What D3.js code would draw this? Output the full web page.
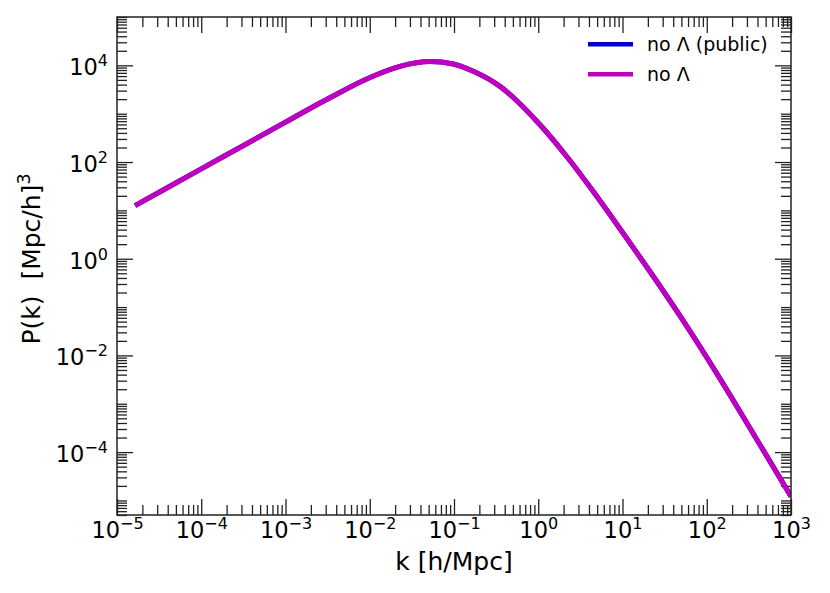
<!DOCTYPE html>
<html>
<head>
<meta charset="utf-8">
<script src="https://cdn.jsdelivr.net/npm/d3@7"></script>
<style>
  html, body { margin: 0; padding: 0; background: #fff; }
  svg { display: block; font-family: "DejaVu Sans", sans-serif; }
  text { white-space: pre; }
</style>
</head>
<body>
<svg id="chart" width="830" height="593"></svg>
<script>
// ---- data ----
const kValues = [1.637e-5, 1e-4, 1e-3, 2.57e-3, 3.69e-3, 9.20e-3, 0.02286, 0.0519, 0.0982, 0.1694,
                 0.3516, 1.05, 2.178, 4.50, 9.33, 19.36, 50.4, 143.5, 357, 1000];
const pNoLambdaPublic = [12.53, 72.1, 668, 1663, 2328, 5224, 9528, 11940, 10690, 7516,
                         3673, 590, 130, 24.5, 4.17, 0.682, 0.0582, 3.31e-3, 2.40e-4, 1.21e-5];
const pNoLambda = [12.53, 72.1, 668, 1663, 2328, 5224, 9528, 11940, 10690, 7516,
                   3673, 590, 130, 24.5, 4.17, 0.682, 0.0582, 3.31e-3, 2.40e-4, 1.21e-5];
const seriesNames = ["no \u039B (public)", "no \u039B"];
const seriesColors = ["#0000CD", "#BF00BF"];
const xMajorExp = [-5, -4, -3, -2, -1, 0, 1, 2, 3];
const yMajorExp = [-4, -2, 0, 2, 4];
const xDomain = [1e-5, 1e3];
const yDomain = [5e-6, 1e5];

// ---- layout ----
const L = 117, R = 791, T = 17, B = 515;
const svg = d3.select("#chart");
const x = d3.scaleLog().domain(xDomain).range([L, R]);
const y = d3.scaleLog().domain(yDomain).range([B, T]);

const minorVals = (lo, hi) => {
  const out = [];
  for (let e = Math.floor(Math.log10(lo)); e <= Math.ceil(Math.log10(hi)); e++) {
    for (let m = 1; m <= 9; m++) {
      const v = m * Math.pow(10, e);
      if (v >= lo * 0.9999 && v <= hi * 1.0001) out.push(v);
    }
  }
  return out;
};
const xMajor = xMajorExp.map(e => Math.pow(10, e));
const yMajor = yMajorExp.map(e => Math.pow(10, e));
const xMinor = minorVals(xDomain[0], xDomain[1]).filter(v => !xMajor.some(m => Math.abs(m - v) / m < 1e-6));
const yMinor = minorVals(yDomain[0], yDomain[1]).filter(v => !yMajor.some(m => Math.abs(m - v) / m < 1e-6));

const MAJ = 16, MIN = 10;
const tickColor = "#222";

function styleAxis(g) {
  g.select(".domain").remove();
  g.selectAll(".tick line").attr("stroke", tickColor).attr("stroke-width", 1.3);
}

// minor ticks
svg.append("g").attr("transform", `translate(0,${B})`)
  .call(d3.axisBottom(x).tickValues(xMinor).tickSize(-MIN).tickSizeOuter(0).tickFormat(""))
  .call(styleAxis);
svg.append("g").attr("transform", `translate(0,${T})`)
  .call(d3.axisTop(x).tickValues(xMinor).tickSize(-MIN).tickSizeOuter(0).tickFormat(""))
  .call(styleAxis);
svg.append("g").attr("transform", `translate(${L},0)`)
  .call(d3.axisLeft(y).tickValues(yMinor).tickSize(-MIN).tickSizeOuter(0).tickFormat(""))
  .call(styleAxis);
svg.append("g").attr("transform", `translate(${R},0)`)
  .call(d3.axisRight(y).tickValues(yMinor).tickSize(-MIN).tickSizeOuter(0).tickFormat(""))
  .call(styleAxis);

// major ticks
const supLabel = (sel) => {
  sel.selectAll(".tick text").each(function(d) {
    const t = d3.select(this);
    const e = Math.round(Math.log10(d));
    t.text(null);
    t.append("tspan").text("10");
    t.append("tspan").attr("dy", -9).attr("font-size", 16)
      .text(e < 0 ? "\u2212" + Math.abs(e) : String(e));
  });
};

const xAxisB = svg.append("g").attr("transform", `translate(0,${B})`)
  .call(d3.axisBottom(x).tickValues(xMajor).tickSize(-MAJ).tickSizeOuter(0));
xAxisB.call(styleAxis);
xAxisB.selectAll(".tick text").attr("y", 23).attr("dy", null).attr("x", 0)
  .attr("font-size", 22.5).attr("font-family", "DejaVu Sans").attr("fill", "#000")
  .attr("text-anchor", "middle");
supLabel(xAxisB);

svg.append("g").attr("transform", `translate(0,${T})`)
  .call(d3.axisTop(x).tickValues(xMajor).tickSize(-MAJ).tickSizeOuter(0).tickFormat(""))
  .call(styleAxis);

const yAxisL = svg.append("g").attr("transform", `translate(${L},0)`)
  .call(d3.axisLeft(y).tickValues(yMajor).tickSize(-MAJ).tickSizeOuter(0));
yAxisL.call(styleAxis);
yAxisL.selectAll(".tick text").attr("x", -9).attr("y", 9.5).attr("dy", null)
  .attr("font-size", 22.5).attr("font-family", "DejaVu Sans").attr("fill", "#000")
  .attr("text-anchor", "end");
supLabel(yAxisL);

svg.append("g").attr("transform", `translate(${R},0)`)
  .call(d3.axisRight(y).tickValues(yMajor).tickSize(-MAJ).tickSizeOuter(0).tickFormat(""))
  .call(styleAxis);

// clip
svg.append("clipPath").attr("id", "clip").append("rect")
  .attr("x", L).attr("y", T).attr("width", R - L).attr("height", B - T);

// lines
const line = d3.line().x(d => x(d[0])).y(d => y(d[1])).curve(d3.curveMonotoneX);
const series = [pNoLambdaPublic, pNoLambda];
series.forEach((vals, i) => {
  svg.append("path")
    .datum(kValues.map((k, j) => [k, vals[j]]))
    .attr("clip-path", "url(#clip)")
    .attr("fill", "none")
    .attr("stroke", seriesColors[i])
    .attr("stroke-width", 5)
    .attr("stroke-linejoin", "round")
    .attr("d", line);
});

// frame
svg.append("rect").attr("x", L).attr("y", T).attr("width", R - L).attr("height", B - T)
  .attr("fill", "none").attr("stroke", tickColor).attr("stroke-width", 1.5);

// axis labels
svg.append("text").attr("x", (L + R) / 2).attr("y", 570)
  .attr("text-anchor", "middle").attr("font-size", 25).attr("fill", "#000")
  .text("k [h/Mpc]");

const yl = svg.append("text").attr("transform", `translate(40,259) rotate(-90)`)
  .attr("text-anchor", "middle").attr("font-size", 25).attr("fill", "#000");
yl.append("tspan").text("P(k)  [Mpc/h]");
yl.append("tspan").attr("dy", -10).attr("font-size", 17.5).text("3");

// legend
const legY = [44.3, 74.3];
seriesNames.forEach((name, i) => {
  svg.append("line").attr("x1", 588).attr("x2", 633).attr("y1", legY[i]).attr("y2", legY[i])
    .attr("stroke", seriesColors[i]).attr("stroke-width", 4.5);
  svg.append("text").attr("x", 647).attr("y", legY[i] + 7)
    .attr("font-size", 19).attr("fill", "#000").text(name);
});
</script>
</body>
</html>
